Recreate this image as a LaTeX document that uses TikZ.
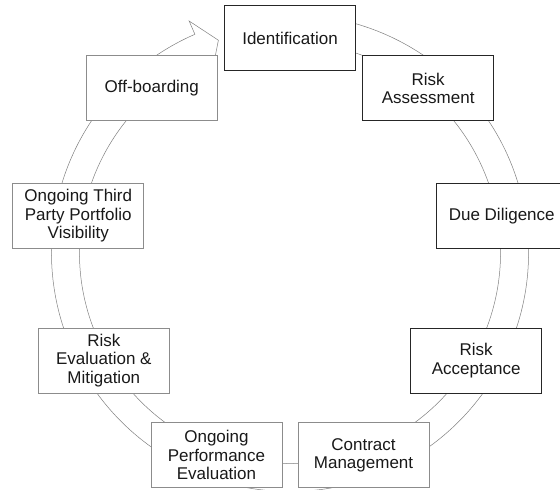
\documentclass[tikz,border=0pt]{standalone}
\usepackage{fontspec}
\setmainfont{Liberation Sans}
\usetikzlibrary{calc}
\begin{document}
\begin{tikzpicture}[x=1pt,y=1pt,
  ringline/.style={draw=black!50, line width=0.5pt, fill=white},
  stage/.style={rectangle, fill=white, line width=0.8pt,
    minimum width=131pt, minimum height=65pt, inner sep=2pt,
    align=center, font=\fontsize{17}{18.4}\selectfont, text=black!90},
  darkstage/.style={stage, draw=black!85},
  lightstage/.style={stage, draw=black!45}]
\useasboundingbox (0,0) rectangle (560,-490);
\coordinate (C) at (290,-253);

% circular arrow behind the stages
\begin{scope}[shift={(C)}]
  \path[ringline]
    (104:238.5) arc[start angle=104, end angle=-246.5, radius=238.5]
    -- (113.5:253) -- (108.6:224.5) -- (113.5:196) -- (113.5:210.5)
    arc[start angle=-246.5, end angle=104, radius=210.5] -- cycle;
\end{scope}

% stages around the cycle
\node[darkstage]  (s1) at ($(C)+(90:215)$)   {Identification};
\node[darkstage]  (s2) at ($(C)+(50:215)$)   {Risk\\Assessment};
\node[darkstage]  (s3) at ($(C)+(10:215)$)   {Due Diligence};
\node[darkstage]  (s4) at ($(C)+(-30:215)$)  {Risk\\Acceptance};
\node[lightstage] (s5) at ($(C)+(-70:215)$)  {Contract\\Management};
\node[lightstage] (s6) at ($(C)+(-110:215)$) {Ongoing\\Performance\\Evaluation};
\node[lightstage] (s7) at ($(C)+(-150:215)$) {Risk\\Evaluation \&\\Mitigation};
\node[lightstage] (s8) at ($(C)+(170:215)$)  {Ongoing Third\\Party Portfolio\\Visibility};
\node[lightstage] (s9) at ($(C)+(130:215)$)  {Off-boarding};
\end{tikzpicture}
\end{document}
